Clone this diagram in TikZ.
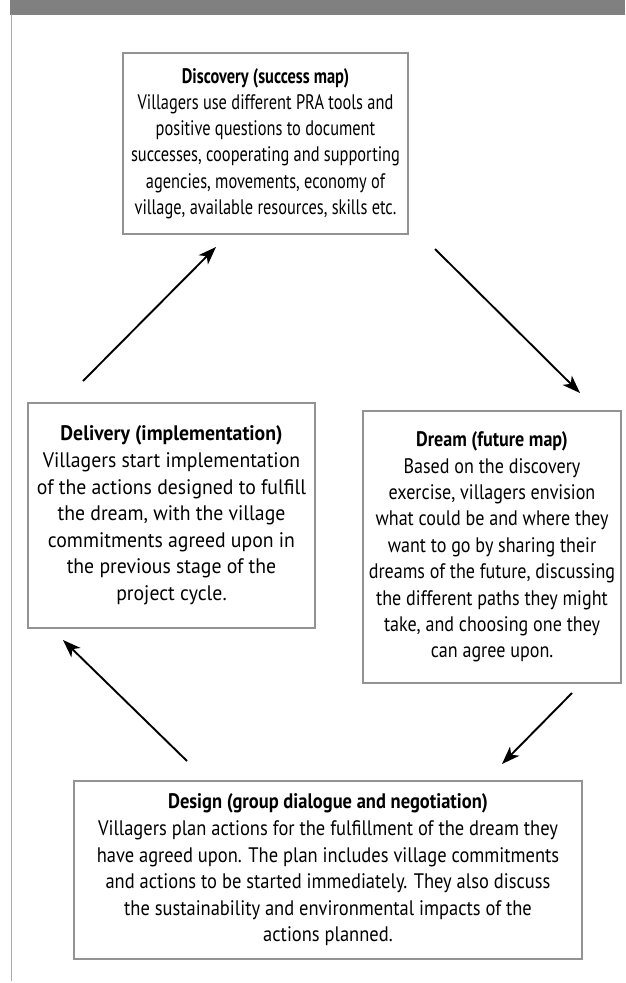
\documentclass[tikz,border=0pt]{standalone}
\usepackage{fontspec}
\setmainfont[FakeStretch=0.86]{PT Sans}
\newfontfamily\discfont[FakeStretch=0.78]{PT Sans}
\newfontfamily\delifont[FakeStretch=0.94]{PT Sans}
\newfontfamily\desifont[FakeStretch=0.88]{PT Sans}
\usetikzlibrary{arrows.meta}
\definecolor{hdr}{HTML}{808080}
\definecolor{rule}{HTML}{AAAAAA}
\definecolor{boxline}{HTML}{939393}
\begin{document}
\begin{tikzpicture}[x=1pt,y=-1pt,
  stagebox/.style={draw=boxline,line width=1.2pt,align=center,inner sep=0pt,
    font=\fontsize{21}{26.4}\selectfont},
  flow/.style={line width=1.9pt,-{Stealth[length=18pt,width=13pt,inset=5pt]}}]
\useasboundingbox (0,0) rectangle (625,983);
\fill[hdr] (9.5,0) rectangle (625,14.5);
\draw[rule,line width=1.5pt] (11.5,14) -- (11.5,981);
\node[stagebox,minimum width=285pt,minimum height=181pt,
  font=\discfont\fontsize{21}{26.2}\selectfont] (disc) at (265.5,143.5)
 {\textbf{Discovery (success map)}\\
  Villagers use different PRA tools and\\
  positive questions to document\\
  successes, cooperating and supporting\\
  agencies, movements, economy of\\
  village, available resources, skills etc.};
\node[stagebox,minimum width=287pt,minimum height=225pt,
  font=\delifont\fontsize{21}{26.6}\selectfont] (deli) at (171.5,515.5)
 {\textbf{Delivery (implementation)}\\
  Villagers start implementation\\
  of the actions designed to fulfill\\
  the dream, with the village\\
  commitments agreed upon in\\
  the previous stage of the\\
  project cycle.};
\node[stagebox,minimum width=258pt,minimum height=272pt] (dream) at (492,547)
 {\textbf{Dream (future map)}\\
  Based on the discovery\\
  exercise, villagers envision\\
  what could be and where they\\
  want to go by sharing their\\
  dreams of the future, discussing\\
  the different paths they might\\
  take, and choosing one they\\
  can agree upon.};
\node[stagebox,minimum width=508pt,minimum height=178pt,
  font=\desifont\fontsize{21}{26.6}\selectfont] (design) at (328,870)
 {\textbf{Design (group dialogue and negotiation)}\\
  Villagers plan actions for the fulfillment of the dream they\\
  have agreed upon. The plan includes village commitments\\
  and actions to be started immediately. They also discuss\\
  the sustainability and environmental impacts of the\\
  actions planned.};
\coordinate (a1s) at (83,381);  \coordinate (a1e) at (216,247);
\coordinate (a2s) at (435,249); \coordinate (a2e) at (580,393);
\coordinate (a3s) at (572,693); \coordinate (a3e) at (502,764);
\coordinate (a4s) at (187,761); \coordinate (a4e) at (63,640);
\draw[flow] (a1s) -- (a1e);
\draw[flow] (a2s) -- (a2e);
\draw[flow] (a3s) -- (a3e);
\draw[flow] (a4s) -- (a4e);
\end{tikzpicture}
\end{document}
